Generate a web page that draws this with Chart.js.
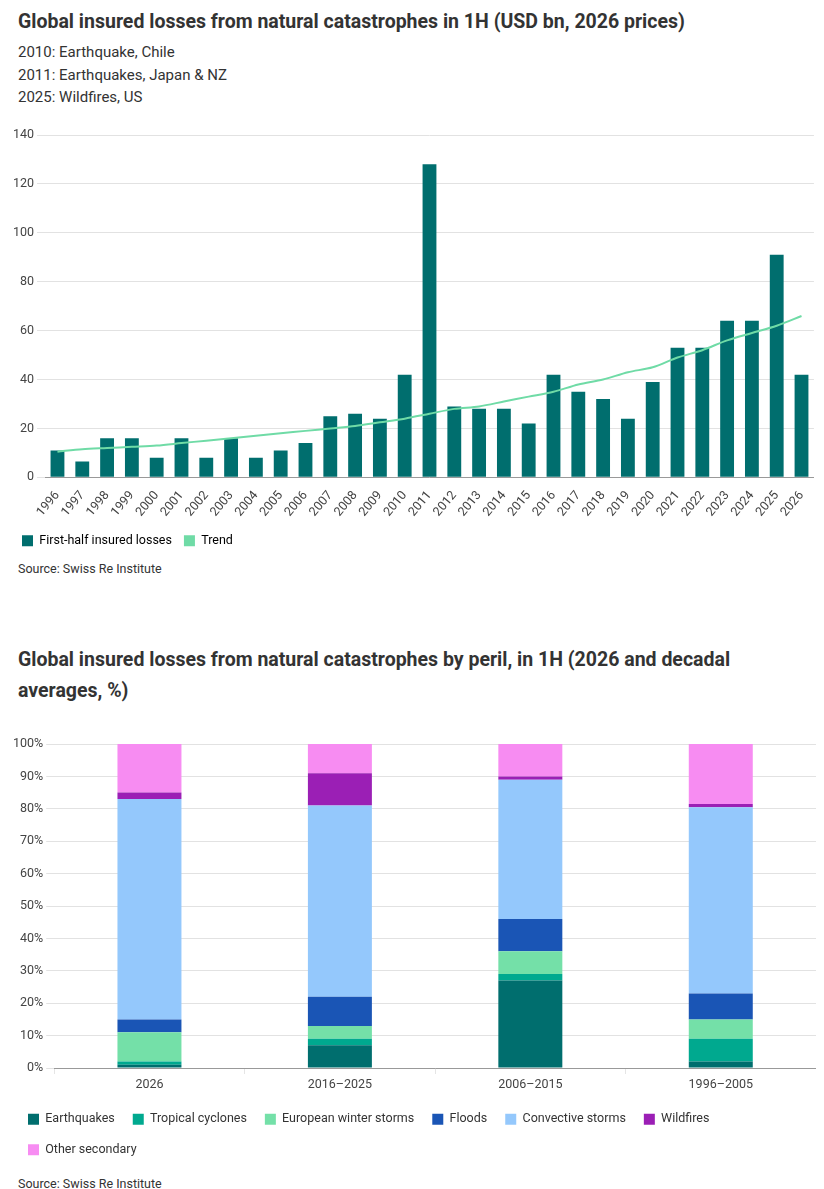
<!DOCTYPE html>
<html>
<head>
<meta charset="utf-8">
<script src="https://cdn.jsdelivr.net/npm/chart.js@4"></script>
<style>
  body { margin: 0; padding: 0 18px; font-family: Roboto, "Noto Sans", sans-serif; color: #222; background: #fff; width: 788px; }
  h2 { font-size: 19.5px; font-weight: 700; margin: 6px 0 4px; line-height: 31px; color: #333; }
  .sub { font-size: 15px; line-height: 22.5px; color: #333; }
  .src { font-size: 12.5px; color: #333; margin-top: 4px; }
  .box1 { position: relative; width: 806px; height: 448px; margin-left: -8px; }
  .box2 { position: relative; width: 806px; height: 462px; margin-left: -8px; }
</style>
</head>
<body>
<h2>Global insured losses from natural catastrophes in 1H (USD bn, 2026 prices)</h2>
<div class="sub">2010: Earthquake, Chile<br>2011: Earthquakes, Japan &amp; NZ<br>2025: Wildfires, US</div>
<div class="box1"><canvas id="c1"></canvas></div>
<div class="src">Source: Swiss Re Institute</div>
<div style="height:62px"></div>
<h2>Global insured losses from natural catastrophes by peril, in 1H (2026 and decadal averages, %)</h2>
<div class="box2"><canvas id="c2"></canvas></div>
<div class="src">Source: Swiss Re Institute</div>
<script>
const years = ['1996','1997','1998','1999','2000','2001','2002','2003','2004','2005','2006','2007','2008','2009','2010','2011','2012','2013','2014','2015','2016','2017','2018','2019','2020','2021','2022','2023','2024','2025','2026'];
const losses = [11,6.5,16,16,8,16,8,16,8,11,14,25,26,24,42,128,29,28,28,22,42,35,32,24,39,53,53,64,64,91,42];
const trend = [10.5,11.5,12,12.5,13,14,15,16,17,18,19,20,21,22.5,24,26,28,29,31,33,35,38,40,43,45,49,52,56,59,62,66];

const periods = ['2026','2016–2025','2006–2015','1996–2005'];
const earthquakes = [1,7,27,2];
const tropical = [1,2,2,7];
const winterStorms = [9,4,7,6];
const floods = [4,9,10,8];
const convective = [68,59,43,57.5];
const wildfires = [2,10,1,1];
const other = [15,9,10,18.5];

Chart.defaults.font.family = 'Roboto, "Noto Sans", sans-serif';
Chart.defaults.color = '#444';
Chart.defaults.animation = false;

new Chart(document.getElementById('c1'), {
  data: {
    labels: years,
    datasets: [
      { type: 'bar', label: 'First-half insured losses', data: losses, backgroundColor: '#006e6e', categoryPercentage: 0.9, barPercentage: 0.62, order: 2 },
      { type: 'line', label: 'Trend', data: trend, borderColor: '#6fdba6', borderWidth: 2, pointRadius: 0, tension: 0.3, order: 1 }
    ]
  },
  options: {
    responsive: true, maintainAspectRatio: false,
    layout: { padding: { top: 26 } },
    plugins: {
      legend: { position: 'bottom', align: 'start',
        labels: { boxWidth: 11, boxHeight: 11, font: { size: 12.5 }, color: '#333', padding: 12,
          generateLabels: chart => [
            { text: 'First-half insured losses', fillStyle: '#006e6e', strokeStyle: '#006e6e', lineWidth: 0, datasetIndex: 0 },
            { text: 'Trend', fillStyle: '#6fdba6', strokeStyle: '#6fdba6', lineWidth: 0, datasetIndex: 1 }
          ] } },
      tooltip: { enabled: false }
    },
    scales: {
      x: { grid: { display: false }, border: { color: '#999' }, ticks: { maxRotation: 50, minRotation: 50, font: { size: 12.5 }, color: '#444' } },
      y: { min: 0, max: 140, ticks: { stepSize: 20, font: { size: 12.5 }, color: '#444' }, grid: { color: '#e2e2e2' }, border: { display: false } }
    }
  }
});

const mk = (label, data, color) => ({ label, data, backgroundColor: color, categoryPercentage: 0.8, barPercentage: 0.42 });
new Chart(document.getElementById('c2'), {
  type: 'bar',
  data: {
    labels: periods,
    datasets: [
      mk('Earthquakes', earthquakes, '#006e6e'),
      mk('Tropical cyclones', tropical, '#00a98f'),
      mk('European winter storms', winterStorms, '#74e0a8'),
      mk('Floods', floods, '#1a55b5'),
      mk('Convective storms', convective, '#94c8fc'),
      mk('Wildfires', wildfires, '#9b1fb5'),
      mk('Other secondary', other, '#f78cf2')
    ]
  },
  options: {
    responsive: true, maintainAspectRatio: false,
    layout: { padding: { top: 34, bottom: 6 } },
    plugins: {
      legend: { position: 'bottom', align: 'start', labels: { boxWidth: 11, boxHeight: 11, font: { size: 12.5 }, color: '#333', padding: 18 } },
      tooltip: { enabled: false }
    },
    scales: {
      x: { stacked: true, grid: { display: true, drawOnChartArea: false, tickLength: 6 }, border: { color: '#999' }, ticks: { font: { size: 12.5 }, color: '#444' } },
      y: { stacked: true, min: 0, max: 100, ticks: { stepSize: 10, callback: v => v + '%', font: { size: 12.5 }, color: '#444' }, grid: { color: '#e2e2e2' }, border: { display: false } }
    }
  }
});
</script>
</body>
</html>
